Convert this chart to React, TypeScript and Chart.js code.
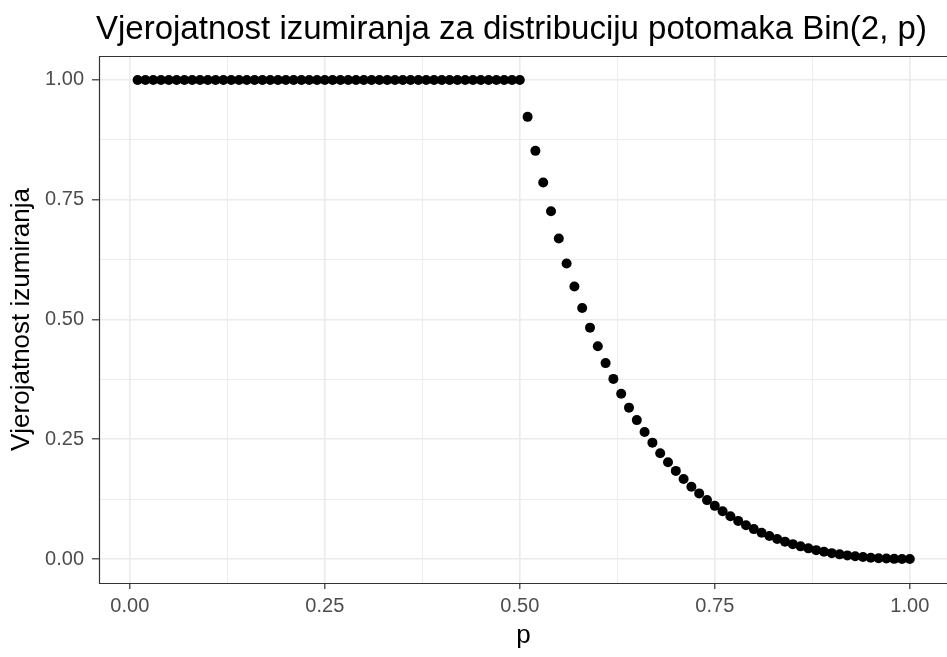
import React, { useEffect, useRef } from "react";
import { Chart, registerables } from "chart.js";

Chart.register(...registerables);

const chartTitle = "Vjerojatnost izumiranja za distribuciju potomaka Bin(2, p)";
const xAxisTitle = "p";
const yAxisTitle = "Vjerojatnost izumiranja";

const pValues = [
  0.01, 0.02, 0.03, 0.04, 0.05, 0.06, 0.07, 0.08, 0.09, 0.10,
  0.11, 0.12, 0.13, 0.14, 0.15, 0.16, 0.17, 0.18, 0.19, 0.20,
  0.21, 0.22, 0.23, 0.24, 0.25, 0.26, 0.27, 0.28, 0.29, 0.30,
  0.31, 0.32, 0.33, 0.34, 0.35, 0.36, 0.37, 0.38, 0.39, 0.40,
  0.41, 0.42, 0.43, 0.44, 0.45, 0.46, 0.47, 0.48, 0.49, 0.50,
  0.51, 0.52, 0.53, 0.54, 0.55, 0.56, 0.57, 0.58, 0.59, 0.60,
  0.61, 0.62, 0.63, 0.64, 0.65, 0.66, 0.67, 0.68, 0.69, 0.70,
  0.71, 0.72, 0.73, 0.74, 0.75, 0.76, 0.77, 0.78, 0.79, 0.80,
  0.81, 0.82, 0.83, 0.84, 0.85, 0.86, 0.87, 0.88, 0.89, 0.90,
  0.91, 0.92, 0.93, 0.94, 0.95, 0.96, 0.97, 0.98, 0.99, 1.00,
];

const extinctionProb = [
  1, 1, 1, 1, 1, 1, 1, 1, 1, 1,
  1, 1, 1, 1, 1, 1, 1, 1, 1, 1,
  1, 1, 1, 1, 1, 1, 1, 1, 1, 1,
  1, 1, 1, 1, 1, 1, 1, 1, 1, 1,
  1, 1, 1, 1, 1, 1, 1, 1, 1, 1,
  0.923, 0.852, 0.786, 0.726, 0.669, 0.617, 0.569, 0.524, 0.483, 0.444,
  0.409, 0.376, 0.345, 0.316, 0.290, 0.265, 0.243, 0.221, 0.202, 0.184,
  0.167, 0.151, 0.137, 0.123, 0.111, 0.0997, 0.0892, 0.0796, 0.0707, 0.0625,
  0.0550, 0.0482, 0.0420, 0.0363, 0.0311, 0.0265, 0.0223, 0.0186, 0.0153, 0.0123,
  0.0098, 0.0076, 0.0057, 0.0041, 0.0028, 0.0017, 0.0010, 0.0004, 0.0001, 0,
];

const majorTicks = [0, 0.25, 0.5, 0.75, 1];
const minorTicks = [0.125, 0.375, 0.625, 0.875];
const tickLabels = ["0.00", "0.25", "0.50", "0.75", "1.00"];

const FONT = "'Liberation Sans', Arial, sans-serif";

function labelFor(v: number): string {
  const i = majorTicks.findIndex((m) => Math.abs(m - v) < 1e-9);
  return i >= 0 ? tickLabels[i] : "";
}
function isMajor(v: number): boolean {
  return majorTicks.some((m) => Math.abs(m - v) < 1e-9);
}
function allTicks() {
  return [...majorTicks, ...minorTicks].sort((a, b) => a - b).map((v) => ({ value: v }));
}

const decorPlugin = {
  id: "decor",
  afterDraw(chart: any) {
    const { ctx, chartArea } = chart;
    ctx.save();
    // panel border (left, top, bottom; right edge lies beyond canvas)
    ctx.strokeStyle = "#333333";
    ctx.lineWidth = 1.2;
    ctx.beginPath();
    ctx.moveTo(chartArea.right + 5, chartArea.top + 0.5);
    ctx.lineTo(chartArea.left + 0.5, chartArea.top + 0.5);
    ctx.lineTo(chartArea.left + 0.5, chartArea.bottom + 0.5);
    ctx.lineTo(chartArea.right + 5, chartArea.bottom + 0.5);
    ctx.stroke();
    // title
    ctx.fillStyle = "#000000";
    ctx.font = `33px ${FONT}`;
    ctx.textAlign = "left";
    ctx.textBaseline = "alphabetic";
    ctx.fillText(chartTitle, 96, 39);
    // x title
    ctx.font = `26px ${FONT}`;
    ctx.textAlign = "center";
    ctx.fillText(xAxisTitle, (chartArea.left + 948) / 2, 643);
    // y title
    ctx.translate(29, (chartArea.top + chartArea.bottom) / 2);
    ctx.rotate(-Math.PI / 2);
    ctx.fillText(yAxisTitle, 0, 0);
    ctx.restore();
  },
};

export default function App() {
  const ref = useRef<HTMLCanvasElement | null>(null);
  useEffect(() => {
    if (!ref.current) return;
    const chart = new Chart(ref.current, {
      type: "scatter",
      data: {
        datasets: [
          {
            data: pValues.map((p, i) => ({ x: p, y: extinctionProb[i] })),
            backgroundColor: "#000000",
            borderWidth: 0,
            pointRadius: 5,
            pointHoverRadius: 5,
          },
        ],
      },
      options: {
        responsive: false,
        animation: false,
        events: [],
        layout: { autoPadding: false, padding: { left: 0, top: 56, right: 0, bottom: 0 } },
        plugins: { legend: { display: false }, title: { display: false }, tooltip: { enabled: false } },
        scales: {
          x: {
            type: "linear",
            min: -0.0395,
            max: 1.0477,
            afterBuildTicks: (s: any) => { s.ticks = allTicks(); },
            afterFit: (s: any) => { s.height = 74; s.paddingLeft = 0; s.paddingRight = 0; },
            border: { display: false },
            grid: {
              color: "#EBEBEB",
              lineWidth: (c: any) => (c.tick && isMajor(c.tick.value) ? 1.6 : 0.9),
              tickLength: 6,
              tickColor: (c: any) => (c.tick && isMajor(c.tick.value) ? "#333333" : "rgba(0,0,0,0)"),
              tickWidth: 1.2,
            },
            ticks: {
              autoSkip: false,
              maxRotation: 0,
              padding: 5,
              color: "#4D4D4D",
              font: { family: FONT, size: 20 },
              callback: (v: any) => labelFor(Number(v)),
            },
          },
          y: {
            type: "linear",
            min: -0.05,
            max: 1.05,
            afterBuildTicks: (s: any) => { s.ticks = allTicks(); },
            afterFit: (s: any) => { s.width = 99; },
            border: { display: false },
            grid: {
              color: "#EBEBEB",
              lineWidth: (c: any) => (c.tick && isMajor(c.tick.value) ? 1.6 : 0.9),
              tickLength: 7,
              tickColor: (c: any) => (c.tick && isMajor(c.tick.value) ? "#333333" : "rgba(0,0,0,0)"),
              tickWidth: 1.2,
            },
            ticks: {
              autoSkip: false,
              padding: 8,
              color: "#4D4D4D",
              font: { family: FONT, size: 20 },
              callback: (v: any) => labelFor(Number(v)),
            },
          },
        },
      },
      plugins: [decorPlugin],
    } as any);
    return () => chart.destroy();
  }, []);
  return (
    <div style={{ position: "absolute", left: 0, top: 0, width: 947, height: 657, background: "#ffffff" }}>
      <canvas ref={ref} width={947} height={657} style={{ display: "block" }} />
    </div>
  );
}
